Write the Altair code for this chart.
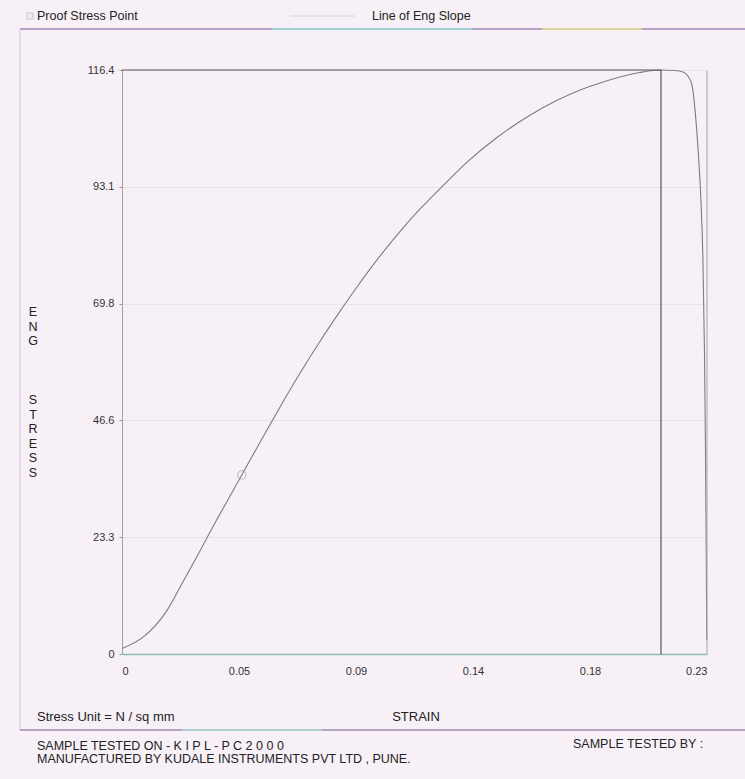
import altair as alt
import pandas as pd

# ---------------- data ----------------
strain = [0.0, 0.0084, 0.0176, 0.0241, 0.0307, 0.0372, 0.0438, 0.0503, 0.0556,
          0.0621, 0.0687, 0.0778, 0.0857, 0.0923, 0.1014, 0.1106, 0.1172, 0.1263,
          0.1360, 0.1473, 0.1604, 0.1709, 0.1801, 0.1879, 0.1958, 0.2036, 0.2119,
          0.2174, 0.2206, 0.2225, 0.2241, 0.2253, 0.2265, 0.2276, 0.2284, 0.2290,
          0.2294, 0.2297, 0.2299]
stress = [1.1, 3.4, 8.6, 14.5, 20.6, 26.7, 32.7, 38.6, 43.4,
          49.2, 54.9, 62.3, 68.3, 73.1, 79.3, 85.0, 88.7, 93.4,
          98.2, 102.9, 107.4, 110.3, 112.4, 113.8, 115.0, 115.9, 116.4,
          116.3, 116.0, 115.2, 113.4, 108.4, 100.5, 90.5, 78.5, 60.6,
          40.7, 20.7, 2.8]

peak_strain = 0.2119
peak_stress = 116.4
proof_strain = 0.0471
proof_stress = 35.7
max_strain = 0.23

x_ticks = [0, 0.046, 0.092, 0.138, 0.184, 0.23]
y_ticks = [0, 23.28, 46.56, 69.84, 93.12, 116.4]

FONT = "Liberation Sans"
BG = "#f7f1f7"

curve_df = pd.DataFrame({"strain": strain, "stress": stress, "i": range(len(strain))})

xs = alt.Scale(domain=[0, max_strain], nice=False, zero=True)
ys = alt.Scale(domain=[0, peak_stress], nice=False, zero=True)

x_axis = alt.Axis(values=x_ticks, title=None, grid=False,
                  labelExpr="datum.value == 0 ? '0' : format(datum.value, '.2f')",
                  labelFont=FONT, labelFontSize=11, labelColor="#333",
                  labelPadding=11, tickSize=0, domainColor="#8fb8b8", domainWidth=1.5)
y_axis = alt.Axis(values=y_ticks, title=None, grid=True, gridColor="#ece2ec",
                  labelExpr="datum.value == 0 ? '0' : format(datum.value, '.1f')",
                  labelFont=FONT, labelFontSize=11, labelColor="#333",
                  labelPadding=5, tickSize=3, tickColor="#999", domainColor="#a0a0a0")

curve = alt.Chart(curve_df).mark_line(color="#7d7d7d", strokeWidth=1.1,
                                      interpolate="monotone").encode(
    x=alt.X("strain:Q", scale=xs, axis=x_axis),
    y=alt.Y("stress:Q", scale=ys, axis=y_axis),
    order="i:Q",
)

peak_df = pd.DataFrame({"s": [peak_strain], "v": [peak_stress], "z": [0.0], "m": [max_strain]})
top_rule = alt.Chart(peak_df).mark_rule(color="#555", strokeWidth=1.2).encode(
    x=alt.X("z:Q", scale=xs), x2="s:Q", y=alt.Y("v:Q", scale=ys))
vert_rule = alt.Chart(peak_df).mark_rule(color="#555", strokeWidth=1.2).encode(
    x=alt.X("s:Q", scale=xs), y=alt.Y("z:Q", scale=ys), y2="v:Q")
right_rule = alt.Chart(peak_df).mark_rule(color="#a8a0aa", strokeWidth=1).encode(
    x=alt.X("m:Q", scale=xs), y=alt.Y("z:Q", scale=ys), y2="v:Q")

proof_df = pd.DataFrame({"s": [proof_strain], "v": [proof_stress]})
proof = alt.Chart(proof_df).mark_point(shape="circle", size=70, color="#999",
                                       strokeWidth=1, filled=False).encode(
    x=alt.X("s:Q", scale=xs), y=alt.Y("v:Q", scale=ys))


def label(text, x, y, size=12, align="left", color="#222", weight="normal"):
    return alt.Chart(pd.DataFrame({"t": [text]})).mark_text(
        align=align, baseline="middle", font=FONT, fontSize=size, color=color,
        fontWeight=weight).encode(x=alt.value(x), y=alt.value(y), text="t:N")


def hline(x1, x2, y, color, w=1):
    return alt.Chart(pd.DataFrame({"a": [0]})).mark_rule(color=color, strokeWidth=w).encode(
        x=alt.value(x1), x2=alt.value(x2), y=alt.value(y))


def vline(x, y1, y2, color, w=1):
    return alt.Chart(pd.DataFrame({"a": [0]})).mark_rule(color=color, strokeWidth=w).encode(
        x=alt.value(x), y=alt.value(y1), y2=alt.value(y2))


legend_marker = alt.Chart(pd.DataFrame({"a": [0]})).mark_point(
    shape="square", size=30, color="#ccc", filled=False).encode(
    x=alt.value(-92), y=alt.value(-54))

annotations = [
    hline(-102, 623, -41, "#b7a3c6", 2),
    hline(150, 350, -41, "#9fcfcf", 2),
    hline(420, 520, -41, "#d8d49a", 2),
    vline(-102, -41, 660, "#d2c8d4", 1),
    hline(-102, 623, 660, "#b7a3c6", 2),
    hline(60, 200, 660, "#a9cfcf", 2),
    legend_marker,
    label("Proof Stress Point", -85, -54, 12.5),
    hline(168, 233, -54, "#d8d0d8", 1),
    label("Line of Eng Slope", 250, -54, 12.5),
    label("E\nN\nG", -89, 242, 12.5, align="center"),
    label("S\nT\nR\nE\nS\nS", -89, 330, 12.5, align="center"),
    label("Stress Unit  = N / sq mm", -85, 647, 13),
    label("STRAIN", 294, 647, 13, align="center"),
    label("SAMPLE TESTED ON - K I P L - P C 2 0 0 0", -85, 676, 12.5),
    label("MANUFACTURED BY KUDALE INSTRUMENTS PVT LTD , PUNE.", -85, 689, 12.5),
    label("SAMPLE TESTED BY :", 451, 674, 12.5),
]

chart = alt.layer(curve, top_rule, vert_rule, right_rule, proof, *annotations).properties(
    width=585, height=584,
    padding={"left": 122, "top": 70, "right": 38, "bottom": 125},
    autosize=alt.AutoSizeParams(type="none"),
    background=BG,
).configure_view(strokeWidth=0).configure_text(lineBreak="\n", lineHeight=14.5)

chart.save("out.html", embed_options={"renderer": "svg", "actions": False})
